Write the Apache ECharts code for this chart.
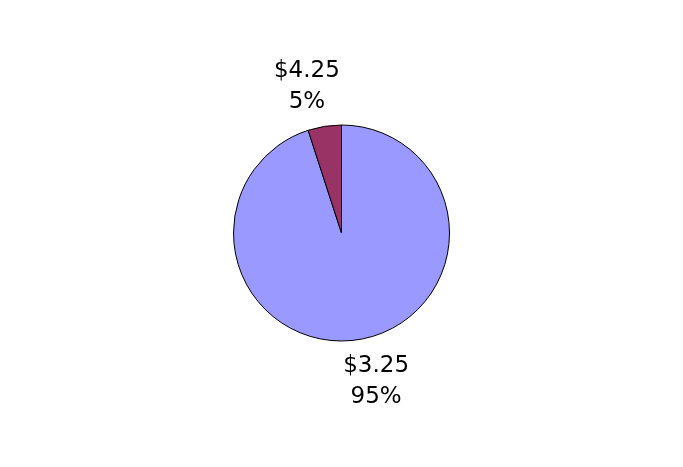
<!DOCTYPE html>
<html><head><meta charset="utf-8">
<script src="https://cdn.jsdelivr.net/npm/echarts@6/dist/echarts.min.js"></script>
<style>html,body{margin:0;padding:0;background:#fff}#c{width:683px;height:467px}</style>
</head><body><div id="c"></div>
<script>
var categories = ['$3.25', '$4.25'];
var values = [95, 5];
var colors = ['#9999FF', '#993366'];

var chart = echarts.init(document.getElementById('c'));
chart.setOption({
  animation: false,
  backgroundColor: '#ffffff',
  series: [{
    type: 'pie',
    center: ['50%', 233],
    radius: 108,
    startAngle: 90,
    clockwise: true,
    avoidLabelOverlap: false,
    data: categories.map(function (c, i) {
      return { name: c, value: values[i], itemStyle: { color: colors[i] } };
    }),
    itemStyle: { borderColor: '#000', borderWidth: 1 },
    label: {
      show: true,
      position: 'outside',
      formatter: '{b}\n{d}%',
      fontFamily: 'DejaVu Sans',
      fontSize: 23,
      lineHeight: 31,
      color: '#000'
    },
    labelLine: { show: false, length: 43, length2: 0 },
    labelLayout: function (p) {
      return p.dataIndex === 0
        ? { align: 'center', verticalAlign: 'middle', dx: 6, dy: -1 }
        : { align: 'center', verticalAlign: 'middle', dx: -6, dy: 3 };
    },
    emphasis: { disabled: true }
  }]
});
</script></body></html>
